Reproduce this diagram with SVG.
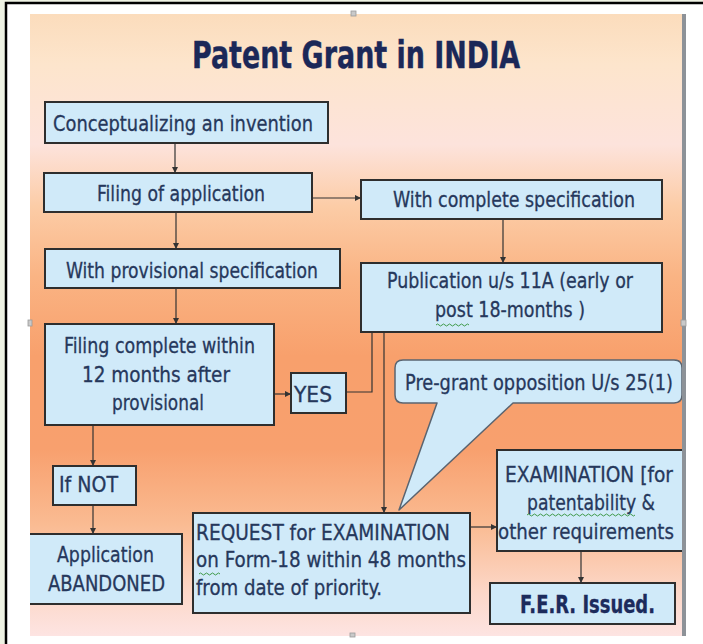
<svg xmlns="http://www.w3.org/2000/svg" width="703" height="644" viewBox="0 0 703 644">
  <defs>
    <linearGradient id="slideBg" x1="0" y1="14" x2="0" y2="636" gradientUnits="userSpaceOnUse">
      <stop offset="0" stop-color="#fbdcbc"/>
      <stop offset="0.08" stop-color="#fde5cc"/>
      <stop offset="0.21" stop-color="#fde3dc"/>
      <stop offset="0.31" stop-color="#fccca6"/>
      <stop offset="0.42" stop-color="#fab484"/>
      <stop offset="0.55" stop-color="#f8a06c"/>
      <stop offset="0.70" stop-color="#f8a06e"/>
      <stop offset="0.82" stop-color="#fabb92"/>
      <stop offset="0.93" stop-color="#fcd7c8"/>
      <stop offset="1" stop-color="#fde4e2"/>
    </linearGradient>
    <clipPath id="slideClip">
      <rect x="30" y="14" width="652" height="622"/>
    </clipPath>
    <marker id="arrow" markerWidth="6" markerHeight="6" refX="6" refY="3" orient="auto" markerUnits="userSpaceOnUse">
      <path d="M0,0 L6,3 L0,6 Z" fill="#333"/>
    </marker>
    <style>
      .box { fill: #d0eaf9; stroke: #2e2e2e; stroke-width: 2; }
      .callout { fill: #d0eaf9; stroke: #5a6470; stroke-width: 1.5; stroke-linejoin: round; }
      .lbl { font-family: "DejaVu Sans Condensed", "DejaVu Sans", sans-serif; font-stretch: condensed; font-size: 22px; fill: #26385c; stroke: #26385c; stroke-width: 0.3; }
      .bold { font-weight: bold; font-size: 24px; fill: #1c2b5c; stroke: #1c2b5c; }
      .title { font-family: "DejaVu Sans Condensed", "DejaVu Sans", sans-serif; font-stretch: condensed; font-weight: bold; font-size: 37px; fill: #1b2858; stroke: #1b2858; stroke-width: 0.4; text-anchor: middle; }
      .conn { fill: none; stroke: #333; stroke-width: 1.2; }
      .arr { marker-end: url(#arrow); }
      .squiggle { fill: none; stroke: #3f9a4a; stroke-width: 1; }
      .handle { fill: #c9c9c9; stroke: #9a9a9a; stroke-width: 0.8; }
    </style>
  </defs>

  <!-- page frame -->
  <rect x="0" y="0" width="703" height="644" fill="#eef2e3"/>
  <rect x="6" y="3" width="697" height="641" fill="#ffffff"/>
  <path d="M6,644 V3 H703" fill="none" stroke="#000" stroke-width="2.5"/>

  <!-- slide background -->
  <rect x="30" y="14" width="652" height="622" fill="url(#slideBg)"/>
  <rect x="682" y="14" width="4" height="622" fill="#8d9298"/>

  <!-- selection handles -->
  <rect class="handle" x="351" y="11" width="5" height="5"/>
  <rect class="handle" x="28" y="320" width="4" height="6"/>
  <rect class="handle" x="681" y="320" width="5" height="6"/>
  <rect class="handle" x="350" y="633" width="5" height="4"/>

  <g clip-path="url(#slideClip)">
    <text class="title" x="356" y="68" textLength="328" lengthAdjust="spacingAndGlyphs">Patent Grant in INDIA</text>

    <!-- connectors -->
    <g id="connectors">
      <path class="conn arr" d="M175,143 V173"/>
      <path class="conn arr" d="M176,212 V249"/>
      <path class="conn arr" d="M176,288 V324"/>
      <path class="conn arr" d="M312,198 H361"/>
      <path class="conn arr" d="M503,219 V263"/>
      <path class="conn arr" d="M274,394 H291"/>
      <path class="conn" d="M346,392 H372 V332"/>
      <path class="conn arr" d="M384,332 V513"/>
      <path class="conn arr" d="M93,425 V466"/>
      <path class="conn arr" d="M93,505 V534"/>
      <path class="conn arr" d="M470,527 H497"/>
      <path class="conn arr" d="M581,551 V583"/>
    </g>

    <g id="concept">
      <rect class="box" x="45" y="102" width="283" height="41"/>
      <text class="lbl" x="53" y="131" textLength="260" lengthAdjust="spacingAndGlyphs">Conceptualizing an invention</text>
    </g>

    <g id="filing">
      <rect class="box" x="44" y="173" width="268" height="39"/>
      <text class="lbl" x="97" y="201" textLength="168" lengthAdjust="spacingAndGlyphs">Filing of application</text>
    </g>

    <g id="provisional">
      <rect class="box" x="45" y="249" width="295" height="39"/>
      <text class="lbl" x="66" y="278" textLength="252" lengthAdjust="spacingAndGlyphs">With provisional specification</text>
    </g>

    <g id="complete-within">
      <rect class="box" x="45" y="324" width="229" height="101"/>
      <text class="lbl" x="64" y="353" textLength="191" lengthAdjust="spacingAndGlyphs">Filing complete within</text>
      <text class="lbl" x="82" y="382" textLength="148" lengthAdjust="spacingAndGlyphs">12 months after</text>
      <text class="lbl" x="112" y="410" textLength="92" lengthAdjust="spacingAndGlyphs">provisional</text>
    </g>

    <g id="yes">
      <rect class="box" x="291" y="373" width="55" height="40"/>
      <text class="lbl" x="294" y="402" textLength="38" lengthAdjust="spacingAndGlyphs">YES</text>
    </g>

    <g id="complete-spec">
      <rect class="box" x="361" y="180" width="301" height="39"/>
      <text class="lbl" x="393" y="207" textLength="242" lengthAdjust="spacingAndGlyphs">With complete specification</text>
    </g>

    <g id="publication">
      <rect class="box" x="361" y="263" width="301" height="69"/>
      <text class="lbl" x="387" y="288" textLength="246" lengthAdjust="spacingAndGlyphs">Publication u/s 11A (early or</text>
      <text class="lbl" x="435" y="317" textLength="150" lengthAdjust="spacingAndGlyphs">post 18-months )</text>
      <path class="squiggle" d="M436,325 q1.5,-2 3,0 t3,0 t3,0 t3,0 t3,0 t3,0 t3,0 t3,0 t3,0 t3,0 t3,0"/>
    </g>

    <g id="pre-grant">
      <path class="callout" d="M403,360 H674 Q682,360 682,368 V395 Q682,403 674,403 H513 L399,510 L437,403 H403 Q395,403 395,395 V368 Q395,360 403,360 Z"/>
      <text class="lbl" x="405" y="390" textLength="268" lengthAdjust="spacingAndGlyphs">Pre-grant opposition U/s 25(1)</text>
    </g>

    <g id="if-not">
      <rect class="box" x="53" y="466" width="83" height="39"/>
      <text class="lbl" x="59" y="492" textLength="59" lengthAdjust="spacingAndGlyphs">If NOT</text>
    </g>

    <g id="abandoned">
      <rect class="box" x="29" y="534" width="153" height="70"/>
      <text class="lbl" x="57" y="562" textLength="97" lengthAdjust="spacingAndGlyphs">Application</text>
      <text class="lbl" x="48" y="591" textLength="117" lengthAdjust="spacingAndGlyphs">ABANDONED</text>
    </g>

    <g id="request">
      <rect class="box" x="193" y="513" width="277" height="100"/>
      <text class="lbl" x="196" y="540" textLength="254" lengthAdjust="spacingAndGlyphs">REQUEST for EXAMINATION</text>
      <text class="lbl" x="196" y="567" textLength="270" lengthAdjust="spacingAndGlyphs">on Form-18 within 48 months</text>
      <text class="lbl" x="196" y="595" textLength="186" lengthAdjust="spacingAndGlyphs">from date of priority.</text>
      <path class="squiggle" d="M199,574 q1.5,-2 3,0 t3,0 t3,0 t3,0 t3,0 t3,0 t3,0"/>
    </g>

    <g id="examination">
      <rect class="box" x="497" y="450" width="187" height="101"/>
      <text class="lbl" x="505" y="482" textLength="168" lengthAdjust="spacingAndGlyphs">EXAMINATION [for</text>
      <text class="lbl" x="527" y="510" textLength="128" lengthAdjust="spacingAndGlyphs">patentability &amp;</text>
      <text class="lbl" x="498" y="539" textLength="176" lengthAdjust="spacingAndGlyphs">other requirements</text>
      <path class="squiggle" d="M527,515 q1.5,-2 3,0 t3,0 t3,0 t3,0 t3,0 t3,0 t3,0 t3,0 t3,0 t3,0 t3,0 t3,0 t3,0 t3,0 t3,0 t3,0 t3,0 t3,0 t3,0 t3,0 t3,0 t3,0 t3,0 t3,0 t3,0 t3,0 t3,0 t3,0 t3,0 t3,0 t3,0 t3,0 t3,0 t3,0 t3,0 t3,0"/>
    </g>

    <g id="fer">
      <rect class="box" x="490" y="583" width="185" height="41"/>
      <text class="lbl bold" x="520" y="613" textLength="135" lengthAdjust="spacingAndGlyphs">F.E.R. Issued.</text>
    </g>
  </g>
</svg>
